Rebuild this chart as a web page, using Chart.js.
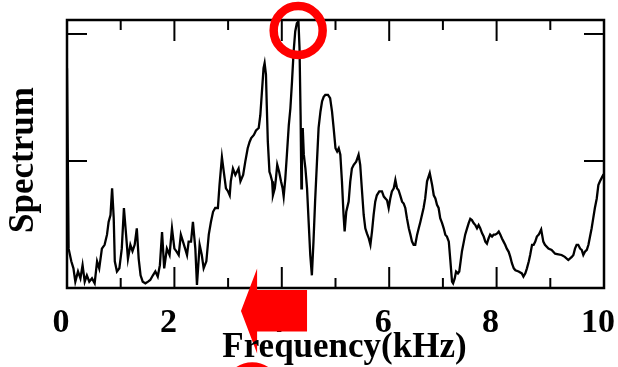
<!DOCTYPE html>
<html>
<head>
<meta charset="utf-8">
<script src="https://cdn.jsdelivr.net/npm/chart.js@4"></script>
<style>
  html, body { margin: 0; padding: 0; background: #fff; }
</style>
</head>
<body>
<canvas id="spec" width="618" height="367"></canvas>
<script>
// spectrum trace, frequency in kHz
const freqKHz = [
  0.00, 0.03, 0.08, 0.12, 0.155, 0.205, 0.25, 0.29, 0.33, 0.37, 0.415, 0.465, 0.515, 0.56, 0.60, 0.65,
  0.70, 0.745, 0.775, 0.81, 0.84, 0.87, 0.89, 0.93, 0.975, 1.02, 1.06, 1.10, 1.135, 1.18, 1.22, 1.26,
  1.30, 1.335, 1.37, 1.41, 1.46, 1.51, 1.55, 1.60, 1.645, 1.69, 1.73, 1.77, 1.81, 1.86, 1.91, 1.955,
  2.00, 2.035, 2.08, 2.12, 2.16, 2.20, 2.235, 2.265, 2.31, 2.345, 2.39, 2.42, 2.47, 2.51, 2.545, 2.595,
  2.64, 2.68, 2.72, 2.76, 2.81, 2.84, 2.885, 2.92, 2.96, 3.00, 3.03, 3.05, 3.09, 3.135, 3.165, 3.195,
  3.23, 3.28, 3.32, 3.365, 3.40, 3.43, 3.48, 3.52, 3.57, 3.60, 3.63, 3.66, 3.68, 3.705, 3.72, 3.74,
  3.77, 3.79, 3.82, 3.835, 3.87, 3.89, 3.915, 3.95, 3.985, 4.015, 4.035, 4.065, 4.095, 4.13, 4.16, 4.19,
  4.22, 4.25, 4.28, 4.31, 4.33, 4.35, 4.365, 4.375, 4.39, 4.41, 4.44, 4.47, 4.50, 4.53, 4.56, 4.59,
  4.62, 4.655, 4.685, 4.72, 4.75, 4.78, 4.81, 4.86, 4.90, 4.935, 4.965, 5.00, 5.03, 5.06, 5.09, 5.12,
  5.15, 5.17, 5.20, 5.245, 5.275, 5.305, 5.34, 5.385, 5.43, 5.46, 5.49, 5.525, 5.555, 5.585, 5.62, 5.65,
  5.68, 5.71, 5.74, 5.77, 5.815, 5.865, 5.90, 5.93, 5.96, 5.99, 6.02, 6.05, 6.085, 6.115, 6.145, 6.175,
  6.205, 6.24, 6.27, 6.30, 6.33, 6.365, 6.395, 6.425, 6.455, 6.485, 6.52, 6.55, 6.58, 6.61, 6.64, 6.67,
  6.705, 6.755, 6.80, 6.83, 6.86, 6.89, 6.92, 6.95, 6.985, 7.015, 7.045, 7.075, 7.11, 7.14, 7.17, 7.19,
  7.22, 7.245, 7.28, 7.305, 7.33, 7.355, 7.39, 7.415, 7.45, 7.48, 7.51, 7.54, 7.575, 7.605, 7.635, 7.665,
  7.695, 7.73, 7.76, 7.79, 7.82, 7.85, 7.88, 7.915, 7.945, 7.975, 8.01, 8.04, 8.07, 8.10, 8.13, 8.16,
  8.19, 8.225, 8.255, 8.285, 8.32, 8.35, 8.41, 8.47, 8.50, 8.535, 8.565, 8.60, 8.625, 8.66, 8.69, 8.72,
  8.75, 8.785, 8.83, 8.87, 8.90, 8.965, 9.025, 9.09, 9.15, 9.21, 9.27, 9.335, 9.40, 9.43, 9.46, 9.49,
  9.52, 9.555, 9.585, 9.615, 9.645, 9.68, 9.71, 9.74, 9.77, 9.80, 9.83, 9.865, 9.895, 9.925, 9.955, 9.985,
  10.0
];
const spectrum = [
  1.73, 0.31, 0.21, 0.155, 0.05, 0.13, 0.076, 0.18, 0.05, 0.10, 0.05, 0.076, 0.037, 0.21, 0.155, 0.31,
  0.34, 0.42, 0.52, 0.575, 0.785, 0.55, 0.21, 0.13, 0.155, 0.31, 0.63, 0.42, 0.23, 0.34, 0.29, 0.34,
  0.47, 0.23, 0.10, 0.05, 0.037, 0.05, 0.063, 0.10, 0.13, 0.09, 0.18, 0.44, 0.155, 0.31, 0.26, 0.47,
  0.31, 0.29, 0.26, 0.42, 0.365, 0.31, 0.26, 0.365, 0.365, 0.52, 0.31, 0.024, 0.34, 0.26, 0.155, 0.21,
  0.42, 0.52, 0.60, 0.63, 0.63, 0.81, 1.03, 0.915, 0.785, 0.76, 0.73, 0.84, 0.94, 0.89, 0.915, 0.94,
  0.84, 0.89, 0.995, 1.10, 1.15, 1.18, 1.205, 1.24, 1.26, 1.36, 1.545, 1.73, 1.77, 1.68, 1.44, 1.15,
  0.915, 0.89, 0.84, 0.73, 0.785, 0.86, 0.97, 0.915, 0.84, 0.785, 0.72, 0.86, 1.05, 1.28, 1.415, 1.625,
  1.86, 2.02, 2.085, 2.10, 1.89, 1.36, 0.785, 1.10, 1.26, 1.05, 0.94, 0.785, 0.52, 0.26, 0.10, 0.365,
  0.68, 0.995, 1.26, 1.39, 1.47, 1.505, 1.52, 1.52, 1.495, 1.39, 1.26, 1.10, 1.075, 1.10, 1.05, 0.84,
  0.575, 0.445, 0.60, 0.68, 0.84, 0.94, 0.97, 0.995, 1.05, 0.97, 0.785, 0.575, 0.47, 0.43, 0.39, 0.34,
  0.445, 0.575, 0.68, 0.73, 0.76, 0.76, 0.72, 0.705, 0.69, 0.63, 0.705, 0.76, 0.785, 0.85, 0.785, 0.77,
  0.73, 0.68, 0.665, 0.63, 0.55, 0.47, 0.42, 0.365, 0.34, 0.34, 0.42, 0.47, 0.52, 0.575, 0.63, 0.705,
  0.84, 0.905, 0.81, 0.73, 0.705, 0.655, 0.63, 0.55, 0.51, 0.47, 0.42, 0.405, 0.365, 0.21, 0.05, 0.037,
  0.076, 0.13, 0.115, 0.13, 0.21, 0.29, 0.365, 0.42, 0.47, 0.51, 0.545, 0.535, 0.51, 0.495, 0.47, 0.495,
  0.47, 0.43, 0.405, 0.365, 0.35, 0.39, 0.42, 0.405, 0.42, 0.42, 0.43, 0.445, 0.42, 0.39, 0.365, 0.34,
  0.31, 0.285, 0.245, 0.195, 0.155, 0.14, 0.13, 0.115, 0.09, 0.115, 0.155, 0.21, 0.26, 0.34, 0.34, 0.365,
  0.405, 0.42, 0.46, 0.365, 0.34, 0.31, 0.30, 0.27, 0.265, 0.26, 0.245, 0.22, 0.245, 0.26, 0.31, 0.34,
  0.34, 0.31, 0.30, 0.26, 0.285, 0.30, 0.34, 0.405, 0.47, 0.55, 0.63, 0.705, 0.81, 0.84, 0.865, 0.89,
  0.89
];

const majorTicksX = [0, 2, 4, 6, 8, 10];
const minorTicksX = [1, 3, 5, 7, 9];
const ticksY = [1, 2];
const yTop = 2.11;

const xTitle = 'Frequency(kHz)';
const yTitle = 'Spectrum';

const serif = '"Liberation Serif", "Times New Roman", serif';

// box around the plot with inward ticks on all four sides
const frame = {
  id: 'frame',
  beforeDatasetsDraw(chart) {
    const { ctx, chartArea: a, scales: { x, y } } = chart;
    const seg = (x1, y1, x2, y2) => { ctx.beginPath(); ctx.moveTo(x1, y1); ctx.lineTo(x2, y2); ctx.stroke(); };
    ctx.save();
    ctx.strokeStyle = '#000';
    ctx.lineWidth = 2;
    majorTicksX.forEach(v => {
      const px = x.getPixelForValue(v);
      seg(px, a.bottom, px, a.bottom - 21);
      seg(px, a.top, px, a.top + 21);
    });
    minorTicksX.forEach(v => {
      const px = x.getPixelForValue(v);
      seg(px, a.bottom, px, a.bottom - 10);
      seg(px, a.top, px, a.top + 10);
    });
    ticksY.forEach(v => {
      const py = y.getPixelForValue(v);
      seg(a.left, py, a.left + 20, py);
      seg(a.right, py, a.right - 20, py);
    });
    ctx.lineWidth = 2.5;
    ctx.strokeRect(a.left, a.top, a.right - a.left, a.bottom - a.top);
    ctx.restore();
  }
};

// red markers: ring on the main peak, block arrow under the axis, ring below
const markers = {
  id: 'markers',
  afterDatasetsDraw(chart) {
    const { ctx, chartArea: a, scales: { x } } = chart;
    ctx.save();
    ctx.strokeStyle = '#ff0000';
    ctx.fillStyle = '#ff0000';
    ctx.lineWidth = 8.5;

    ctx.beginPath();
    ctx.arc(x.getPixelForValue(4.305), a.top + 10.5, 24.5, 0, Math.PI * 2);
    ctx.stroke();

    ctx.beginPath();
    ctx.arc(x.getPixelForValue(3.45), a.bottom + 103, 24.5, 0, Math.PI * 2);
    ctx.stroke();

    const tip = x.getPixelForValue(3.24);
    const back = x.getPixelForValue(3.54);
    const tail = x.getPixelForValue(4.47);
    const mid = a.bottom + 23;
    ctx.beginPath();
    ctx.moveTo(tip, mid);
    ctx.lineTo(back, mid - 42.5);
    ctx.lineTo(back, a.bottom + 2);
    ctx.lineTo(tail, a.bottom + 2);
    ctx.lineTo(tail, mid + 20.5);
    ctx.lineTo(back, mid + 20.5);
    ctx.lineTo(back, mid + 42.5);
    ctx.closePath();
    ctx.fill();
    ctx.restore();
  }
};

// axis titles, written on top of the arrow
const titles = {
  id: 'titles',
  afterDraw(chart) {
    const { ctx, chartArea: a } = chart;
    ctx.save();
    ctx.fillStyle = '#000';
    ctx.font = 'bold 35px ' + serif;
    ctx.textAlign = 'center';
    ctx.textBaseline = 'alphabetic';
    ctx.fillText(xTitle, (a.left + a.right) / 2 + 9, 357);
    ctx.translate(33, (a.top + a.bottom) / 2 + 6);
    ctx.rotate(-Math.PI / 2);
    ctx.fillText(yTitle, 0, 0);
    ctx.restore();
  }
};

new Chart(document.getElementById('spec'), {
  type: 'line',
  data: {
    datasets: [{
      data: freqKHz.map((f, i) => ({ x: f, y: spectrum[i] })),
      borderColor: '#000',
      borderWidth: 2.3,
      pointRadius: 0,
      tension: 0,
      fill: false
    }]
  },
  options: {
    responsive: false,
    animation: false,
    events: [],
    layout: { padding: { top: 20, right: 14, left: 0, bottom: 0 } },
    plugins: { legend: { display: false }, tooltip: { enabled: false } },
    scales: {
      x: {
        type: 'linear',
        min: 0,
        max: 10,
        // fixed axis height; labels may hang past the plot edges
        afterFit: s => { s.height = 79; s.paddingLeft = 0; s.paddingRight = 0; },
        afterBuildTicks: s => { s.ticks = majorTicksX.map(v => ({ value: v })); },
        grid: { display: false, drawTicks: false },
        border: { display: false },
        ticks: {
          color: '#000',
          padding: 15,
          labelOffset: -6,
          maxRotation: 0,
          font: { family: serif, size: 34, weight: 'bold' }
        }
      },
      y: {
        min: 0,
        max: yTop,
        afterFit: s => { s.width = 67; },
        grid: { display: false, drawTicks: false },
        border: { display: false },
        ticks: { display: false }
      }
    }
  },
  plugins: [frame, markers, titles]
});
</script>
</body>
</html>
